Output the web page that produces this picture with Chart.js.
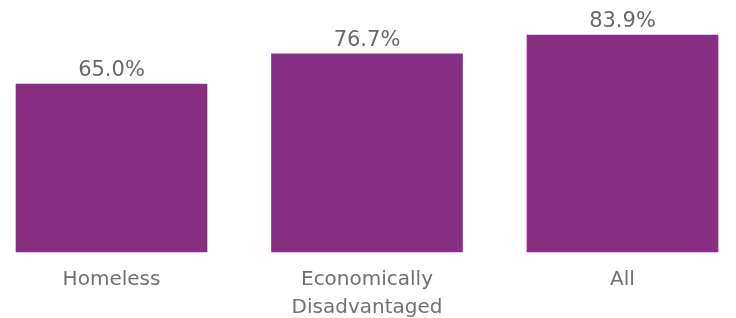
<!DOCTYPE html>
<html>
<head>
<meta charset="utf-8">
<script src="https://cdn.jsdelivr.net/npm/chart.js@4"></script>
<style>
	html, body { margin: 0; padding: 0; background: #fff; }
	#wrap { width: 736px; height: 318px; }
</style>
</head>
<body>
<div id="wrap"><canvas id="rates"></canvas></div>
<script>
const categories = ["Homeless", ["Economically", "Disadvantaged"], "All"];
const rates = [65.0, 76.7, 83.9];

const barColor = "#892e85";
const textColor = "#707070";

// draws the percentage above each bar
const valueLabels = {
	id: "valueLabels",
	afterDatasetsDraw(chart) {
		const c = chart.ctx;
		const meta = chart.getDatasetMeta(0);
		c.save();
		c.font = "21px 'DejaVu Sans'";
		c.fillStyle = "#686868";
		c.textAlign = "center";
		c.textBaseline = "alphabetic";
		meta.data.forEach((bar, i) => {
			c.fillText(rates[i].toFixed(1) + "%", bar.x, bar.y - 8);
		});
		c.restore();
	},
};

const ctx = document.getElementById("rates").getContext("2d");

new Chart(ctx, {
	type: "bar",
	data: {
		labels: categories,
		datasets: [
			{
				data: rates,
				backgroundColor: barColor,
				barThickness: 191,
				clip: false,
			},
		],
	},
	options: {
		responsive: true,
		maintainAspectRatio: false,
		animation: false,
		layout: {
			padding: { top: 19.4, left: 111.5, right: 113.5, bottom: 0 },
		},
		plugins: {
			legend: { display: false },
			tooltip: { enabled: false },
		},
		scales: {
			x: {
				offset: false,
				grid: { display: false, drawTicks: false },
				border: { display: false },
				ticks: {
					color: textColor,
					padding: 14,
					maxRotation: 0,
					autoSkip: false,
					font: { family: "'DejaVu Sans'", size: 20, lineHeight: 1.4 },
				},
				// chart.js counts tick padding twice, drop the extra bit
				afterFit(scale) {
					scale.height -= 18;
				},
			},
			y: {
				display: false,
				min: 0,
				max: 90,
			},
		},
	},
	plugins: [valueLabels],
});
</script>
</body>
</html>
